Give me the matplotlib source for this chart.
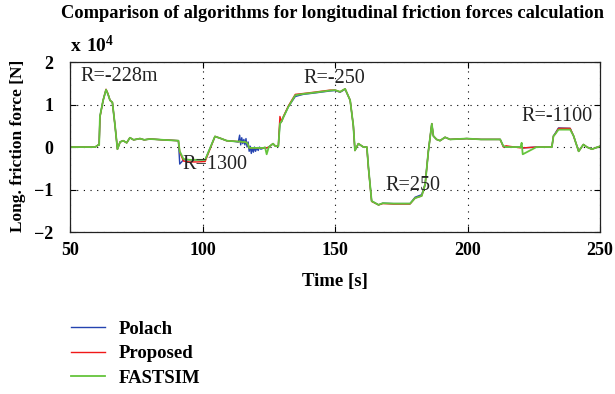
import matplotlib
matplotlib.use("Agg")
import matplotlib.pyplot as plt

# time [s] shared by the three simulated signals
time_s = [50, 59.5, 60.7, 61.0, 61.3, 62.5, 63.6, 64.3, 65.1, 66.0,
          67.0, 67.9, 68.9, 70.1, 71.4, 72.6, 74.0, 76.4, 78.0, 80.2,
          85.0, 90.9, 91.4, 92.8, 95.0, 98.0, 101.0, 104.7, 107.0, 109.1,
          111.0, 113.5, 114.0, 114.4, 114.8, 115.2, 115.6, 116.0, 116.4, 116.8,
          117.2, 117.6, 118.0, 118.4, 118.8, 119.2, 119.6, 120.0, 120.5, 121.0,
          121.5, 122.0, 122.9, 123.6, 124.2, 125.0, 126.6, 127.5, 128.6, 129.2,
          129.8, 130.5, 132.4, 135.0, 138.0, 142.0, 148.1, 150.0, 151.9, 153.8,
          155.7, 156.9, 157.5, 158.8, 160.7, 162.0, 162.6, 163.8, 166.4, 168.0,
          172.0, 178.3, 180.2, 182.7, 184.0, 185.2, 186.5, 187.1, 188.3, 189.6,
          191.5, 193.4, 199.7, 205.0, 212.3, 213.5, 214.5, 220.0, 220.4, 220.8,
          226.0, 231.8, 232.4, 233.0, 234.3, 238.7, 240.0, 241.9, 243.7, 245.0,
          246.9, 250.0]

# longitudinal friction force in units of 10^4 N
polach = [0, 0, 0.05, 0.05, 0.72, 1.1, 1.35, 1.25, 1.1, 1.05,
          0.5, -0.05, 0.12, 0.15, 0.1, 0.22, 0.17, 0.2, 0.17, 0.19,
          0.17, 0.15, -0.4, -0.3, -0.3, -0.3, -0.3, 0.25, 0.2, 0.15,
          0.14, 0.12, 0.28, 0.05, 0.22, 0.08, 0.18, 0.05, 0.2, 0.0,
          0.12, -0.1, 0.02, -0.15, -0.02, -0.12, 0.0, -0.1, -0.02, -0.08,
          0.0, -0.05, -0.03, -0.01, -0.02, 0.0, 0.08, 0.02, 0.02, 0.55,
          0.6, 0.7, 0.95, 1.19, 1.24, 1.27, 1.32, 1.33, 1.29, 1.36,
          1.1, 0.5, -0.08, 0.08, 0.0, 0.0, -0.48, -1.27, -1.36, -1.32,
          -1.33, -1.33, -1.18, -1.12, -0.86, -0.1, 0.55, 0.26, 0.18, 0.15,
          0.23, 0.18, 0.2, 0.18, 0.18, 0.02, 0.0, 0.0, 0.0, -0.02,
          0.0, 0.0, 0.26, 0.32, 0.45, 0.44, 0.26, -0.1, 0.06, 0.0,
          -0.05, 0.02]

proposed = [0, 0, 0.05, 0.05, 0.7, 1.1, 1.36, 1.26, 1.1, 1.05,
            0.5, -0.05, 0.12, 0.15, 0.1, 0.22, 0.17, 0.2, 0.17, 0.19,
            0.17, 0.15, -0.12, -0.33, -0.35, -0.35, -0.34, 0.25, 0.2, 0.15,
            0.14, 0.13, 0.13, 0.13, 0.12, 0.12, 0.12, 0.12, 0.11, 0.1,
            0.05, -0.02, -0.02, -0.02, -0.02, -0.02, -0.02, -0.02, -0.02, -0.02,
            -0.02, -0.02, -0.02, -0.01, -0.02, 0.0, 0.08, 0.02, 0.02, 0.72,
            0.6, 0.72, 0.97, 1.24, 1.26, 1.29, 1.34, 1.34, 1.3, 1.37,
            1.1, 0.5, -0.08, 0.08, 0.0, 0.0, -0.5, -1.28, -1.36, -1.33,
            -1.34, -1.34, -1.2, -1.15, -0.88, -0.1, 0.55, 0.26, 0.18, 0.15,
            0.23, 0.18, 0.2, 0.18, 0.18, 0.0, 0.03, -0.02, 0.02, -0.02,
            0.0, 0.0, 0.26, 0.3, 0.44, 0.44, 0.26, -0.1, 0.06, 0.0,
            -0.05, 0.02]

fastsim = [0, 0, 0.05, 0.05, 0.72, 1.1, 1.35, 1.25, 1.1, 1.05,
           0.5, -0.05, 0.12, 0.15, 0.1, 0.22, 0.17, 0.2, 0.17, 0.19,
           0.17, 0.15, -0.1, -0.28, -0.3, -0.3, -0.3, 0.25, 0.2, 0.15,
           0.14, 0.13, 0.13, 0.13, 0.12, 0.12, 0.12, 0.12, 0.11, 0.1,
           0.05, -0.02, -0.02, -0.02, -0.02, -0.02, -0.02, -0.02, -0.02, -0.02,
           -0.02, -0.02, -0.02, -0.01, -0.17, 0.0, 0.08, 0.02, 0.02, 0.55,
           0.6, 0.7, 0.95, 1.22, 1.25, 1.28, 1.33, 1.34, 1.3, 1.37,
           1.1, 0.5, -0.08, 0.08, 0.0, 0.0, -0.48, -1.27, -1.36, -1.32,
           -1.33, -1.33, -1.2, -1.15, -0.88, -0.1, 0.55, 0.26, 0.18, 0.15,
           0.23, 0.18, 0.2, 0.18, 0.18, 0.02, 0.0, 0.0, 0.1, -0.17,
           0.0, 0.0, 0.26, 0.3, 0.41, 0.41, 0.26, -0.1, 0.06, 0.0,
           -0.05, 0.02]

# curve radius notes: (text, time, force)
notes = [("R=-228m", 53.8, 1.66), ("R=1300", 92.6, -0.42),
         ("R=-250", 137.9, 1.62), ("R=250", 168.9, -0.9),
         ("R=-1100", 220.3, 0.72)]

plt.rcParams["font.family"] = ["Liberation Serif", "DejaVu Serif"]
plt.rcParams["mathtext.fontset"] = "custom"
plt.rcParams["mathtext.bf"] = "Liberation Serif:bold"
plt.rcParams["mathtext.rm"] = "Liberation Serif"

fig = plt.figure(figsize=(6.15, 3.94), dpi=100)
ax = fig.add_axes([0.1138, 0.411, 0.862, 0.4315])

ax.plot(time_s, polach, color="#2443b0", lw=1.0, label="Polach")
ax.plot(time_s, proposed, color="#f01818", lw=1.0, label="Proposed")
ax.plot(time_s, fastsim, color="#64c43c", lw=1.3, label="FASTSIM")

for txt, tx, ty in notes:
    ax.text(tx, ty, txt, fontsize=14.5, color="#222222", va="center", ha="left")

ax.set_xlim(50, 250)
ax.set_ylim(-2, 2)
ax.set_xticks([50, 100, 150, 200, 250])
ax.set_yticks([-2, -1, 0, 1, 2])
ax.set_yticklabels(["\u22122", "\u22121", "0", "1", "2"])
ax.grid(True, color="black", linestyle=(0, (1, 5)), linewidth=0.8)
ax.tick_params(direction="in", top=True, right=True, length=4, width=0.8)
ax.tick_params(axis="x", pad=7, labelsize=13)
ax.tick_params(axis="y", pad=12, labelsize=13)
for lab in ax.get_xticklabels() + ax.get_yticklabels():
    lab.set_fontweight("bold")
for sp in ax.spines.values():
    sp.set_linewidth(0.9)
    sp.set_color("#222222")

ax.set_xlabel("Time [s]", fontsize=13.5, fontweight="bold", labelpad=10)
fig.text(0.03, 0.63, "Long. friction force [N]", rotation=90, fontsize=12.5,
         fontweight="bold", ha="center", va="center")
fig.text(0.114, 0.868, r"$\mathbf{x\ 10^4}$", fontsize=14, ha="left", va="baseline")
fig.text(0.54, 0.965, "Comparison of algorithms for longitudinal friction forces calculation",
         fontsize=13.3, fontweight="bold", ha="center", va="center")

leg = ax.legend(loc="upper left", bbox_to_anchor=(0.1, 0.21),
                bbox_transform=fig.transFigure, frameon=False, borderpad=0,
                handlelength=1.8, handletextpad=0.75, labelspacing=0.4,
                prop={"weight": "bold", "size": 13.5})

fig.savefig("out.png", dpi=100)
